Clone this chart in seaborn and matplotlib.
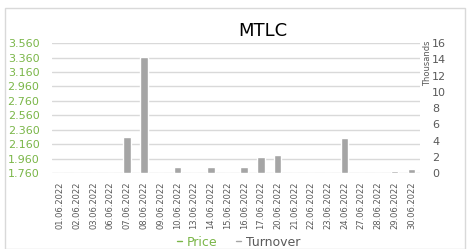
import numpy as np
import pandas as pd
import matplotlib.pyplot as plt
import seaborn as sns
from matplotlib.lines import Line2D
from matplotlib.patches import Rectangle


dates = [
    "01.06.2022", "02.06.2022", "03.06.2022", "06.06.2022", "07.06.2022",
    "08.06.2022", "09.06.2022", "10.06.2022", "13.06.2022", "14.06.2022",
    "15.06.2022", "16.06.2022", "17.06.2022", "20.06.2022", "21.06.2022",
    "22.06.2022", "23.06.2022", "24.06.2022", "27.06.2022", "28.06.2022",
    "29.06.2022", "30.06.2022",
]

# no price line is visible in the chart
price = [np.nan] * len(dates)

# turnover in thousands
turnover = [
    0, 0, 0, 0, 4.4,
    14.3, 0, 0.75, 0, 0.75,
    0, 0.75, 2.0, 2.2, 0,
    0, 0, 4.3, 0, 0,
    0.25, 0.5,
]

price_ticks = [1.76 + 0.2 * i for i in range(10)]
turnover_ticks = list(range(0, 17, 2))

green = "#7AB648"
bar_gray = "#A5A5A5"
text_gray = "#595959"
grid_gray = "#D9D9D9"

df = pd.DataFrame({"date": dates, "price": price, "turnover": turnover})

sns.set_style("white")
plt.rcParams["font.family"] = ["DejaVu Sans"]

fig = plt.figure(figsize=(4.68, 2.49), dpi=100)
ax = fig.add_axes([0.111, 0.305, 0.786, 0.522])
ax2 = ax.twinx()

sns.barplot(
    data=df,
    x="date",
    y="turnover",
    color=bar_gray,
    width=0.45,
    saturation=1,
    ax=ax2
)

ax.plot(range(len(dates)), df["price"], color=green, linewidth=1.5)

ax.set_ylim(1.76, 3.56)
ax.set_yticks(price_ticks)
ax.set_yticklabels([f"{t:.3f}" for t in price_ticks], color=green, fontsize=8)
ax.set_xlim(-0.5, len(dates) - 0.5)
ax.yaxis.grid(True, color=grid_gray, linewidth=1)
ax.set_axisbelow(True)

ax2.set_ylim(0, 16)
ax2.set_yticks(turnover_ticks)
ax2.set_yticklabels([str(t) for t in turnover_ticks], color=text_gray, fontsize=8)
ax2.set_xlabel("")
ax2.set_ylabel("")
ax2.set_xlim(-0.5, len(dates) - 0.5)

ax.set_xticks(range(len(dates)))
ax.set_xticklabels(dates, rotation=90, fontsize=6, color=text_gray)
ax2.tick_params(axis="x", bottom=False, labelbottom=False)
ax.tick_params(axis="x", length=0, pad=6)
ax.tick_params(axis="y", length=0, pad=9)
ax2.tick_params(axis="y", length=0, pad=9)

for a in (ax, ax2):
    for s in a.spines.values():
        s.set_visible(False)

fig.text(0.914, 0.745, "Thousands", rotation=90, fontsize=6,
         color=text_gray, ha="center", va="center")

fig.text(0.562, 0.875, "MTLC", fontsize=13, color="black",
         ha="center", va="center")

handles = [
    Line2D([], [], color=green, linewidth=1),
    Line2D([], [], color=bar_gray, linewidth=1),
]
leg = fig.legend(
    handles, ["Price", "Turnover"],
    loc="center", bbox_to_anchor=(0.51, 0.028),
    ncol=2, frameon=False, fontsize=9,
    handlelength=0.4, handletextpad=0.4, columnspacing=1.5
)
leg.get_texts()[0].set_color(green)
leg.get_texts()[1].set_color(text_gray)

fig.patches.append(Rectangle((0.011, 0.0), 0.983, 0.968, transform=fig.transFigure,
                             fill=False, edgecolor=grid_gray, linewidth=1))

fig.savefig("out.png", dpi=100)
